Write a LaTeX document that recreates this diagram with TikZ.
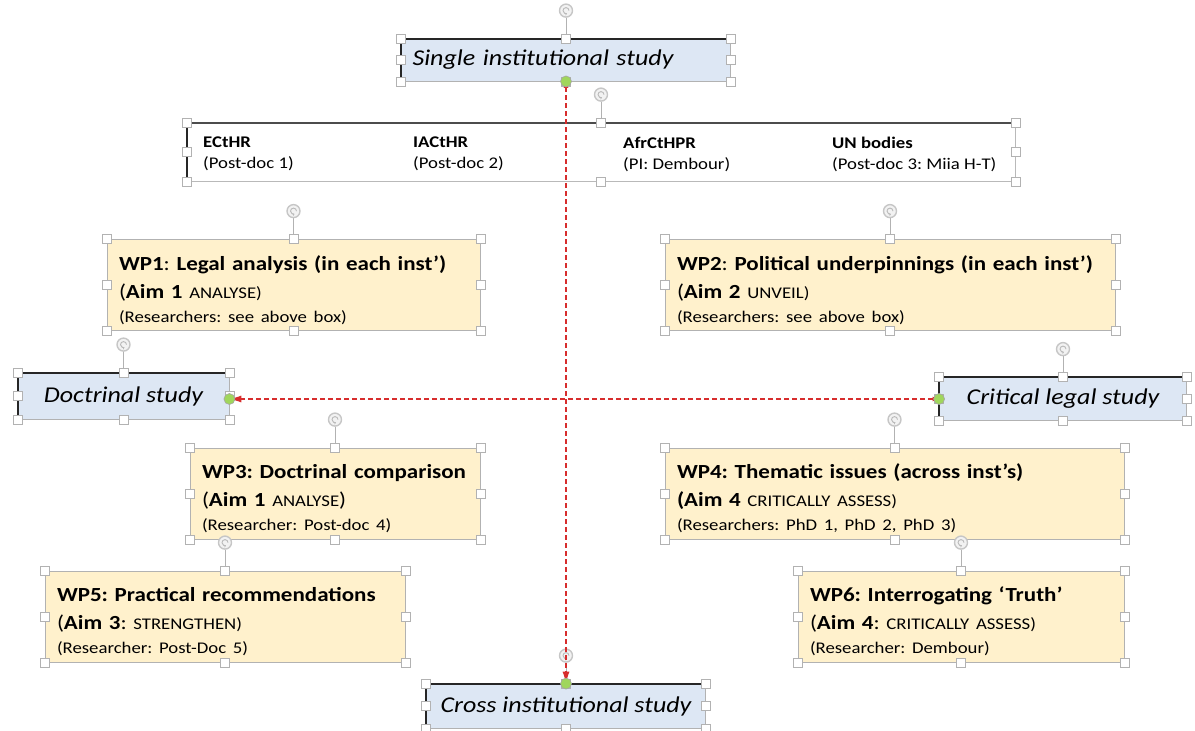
\documentclass[tikz,border=0pt]{standalone}
\usepackage{fontspec}
\setmainfont{Carlito}[FakeStretch=1.15]
\usetikzlibrary{arrows.meta,calc}
\frenchspacing

\definecolor{studyblue}{RGB}{221,231,244}
\definecolor{wpyellow}{RGB}{255,241,204}
\definecolor{linkred}{RGB}{215,45,45}
\definecolor{gripgreen}{RGB}{160,214,92}

\newcommand{\bigfont}{\fontsize{20}{28}\selectfont}
\newcommand{\smallfont}{\fontsize{16.3}{20}\selectfont}
\newcommand{\capsword}[1]{{\smallfont #1}}
\newcommand{\wptitle}[1]{\rule{0pt}{25pt}\mbox{#1}}

\tikzstyle{studybox}=[rectangle,fill=studyblue,draw=gray!60,line width=0.8pt,inner sep=0pt,font=\fontsize{22.6}{26}\selectfont\itshape]
\tikzstyle{instbox}=[rectangle,fill=white,draw=gray!55,line width=0.8pt,inner sep=0pt]
\tikzstyle{insttext}=[anchor=north west,align=left,inner sep=0pt,font=\fontsize{16.3}{21}\selectfont]
\tikzstyle{wpbox}=[rectangle,fill=wpyellow,draw=gray!60,line width=0.8pt,inner xsep=12pt,inner ysep=0pt,align=left,minimum height=91pt,font=\bigfont]
\tikzstyle{link}=[draw=linkred,line width=1.1pt,dash pattern=on 5pt off 3pt,{Latex[length=6.5pt,width=5pt]}-{Latex[length=12pt,width=7pt]}]
\tikzstyle{studyedge}=[black!85,line width=1.8pt]
\tikzstyle{handle}=[fill=white,draw=gray!60,line width=0.7pt]
\tikzstyle{knob}=[fill=gray!10,draw=gray!45,line width=1.4pt]
\tikzstyle{knobstem}=[gray!60,line width=0.8pt]
\tikzstyle{grip}=[circle,fill=gripgreen,draw=gray!70,line width=0.6pt,minimum size=11pt,inner sep=0pt]

\begin{document}
\begin{tikzpicture}[x=1pt,y=-1pt]
\useasboundingbox (0,0) rectangle (1195,731);

  % study types
  \node[studybox,minimum width=329pt,minimum height=42pt,text width=307pt,inner xsep=11pt,align=left] (single) at (566,60) {Single institutional study};
  \node[studybox,minimum width=211pt,minimum height=46pt] (doctrinal) at (123.5,396) {Doctrinal study};
  \node[studybox,minimum width=247pt,minimum height=43pt] (critical) at (1063,399) {Critical legal study};
  \node[studybox,minimum width=279pt,minimum height=44pt] (cross) at (566,706) {Cross institutional study};

  % institutions
  \node[instbox,minimum width=828pt,minimum height=58pt] (inst) at (601,152) {};
  \foreach \pos/\name/\court/\who in {203/ecthr/ECtHR/{(Post-doc 1)}, 413/iacthr/IACtHR/{(Post-doc 2)}, 623/afrcthpr/AfrCtHPR/{(PI: Dembour)}, 832/unbodies/UN bodies/{(Post-doc 3: Miia H-T)}}
    \node[insttext] (\name) at (\pos,137) {\textbf{\court}\\\who};

  % work packages
  \node[wpbox,text width=349pt] (wp1) at (293.5,285) {\wptitle{\textbf{WP1}: \textbf{Legal analysis (in each inst’)}}\\(\textbf{Aim 1} \capsword{ANALYSE)}\\[-4pt]\smallfont(Researchers: see above box)};
  \node[wpbox,text width=426pt] (wp2) at (890,285) {\wptitle{\textbf{WP2}: \textbf{Political underpinnings (in each inst’)}}\\(\textbf{Aim 2} \capsword{UNVEIL)}\\[-4pt]\smallfont(Researchers: see above box)};
  \node[wpbox,text width=266pt] (wp3) at (335,493.5) {\wptitle{\textbf{WP3: Doctrinal comparison}}\\(\textbf{Aim 1} \capsword{ANALYSE})\\[-4pt]\smallfont(Researcher: Post-doc 4)};
  \node[wpbox,text width=435pt] (wp4) at (894.5,493.5) {\wptitle{\textbf{WP4: Thematic issues (across inst’s)}}\\\textbf{(Aim 4} \capsword{CRITICALLY ASSESS)}\\[-4pt]\smallfont(Researchers: PhD 1, PhD 2, PhD 3)};
  \node[wpbox,text width=336pt] (wp5) at (225,616.5) {\wptitle{\textbf{WP5: Practical recommendations}}\\(\textbf{Aim 3}: \capsword{STRENGTHEN)}\\[-4pt]\smallfont(Researcher: Post-Doc 5)};
  \node[wpbox,text width=302pt] (wp6) at (961,616.5) {\wptitle{\textbf{WP6: Interrogating ‘Truth’}}\\(\textbf{Aim 4}: \capsword{CRITICALLY ASSESS)}\\[-4pt]\smallfont(Researcher: Dembour)};

  % dark frame edges of the selected boxes
  \foreach \n in {single,doctrinal,critical,cross}
    \draw[studyedge] (\n.south west) -- (\n.north west) -- (\n.north east);
  \draw[gray!60!black,line width=2.2pt] (inst.north west) -- (inst.north east);
  \draw[studyedge] (inst.south west) -- (inst.north west);

  % selection handles
  \foreach \n in {single,inst,wp1,wp2,doctrinal,critical,wp3,wp4,wp5,wp6,cross}{
    \draw[knobstem] (\n.north) -- ++(0,-21);
    \filldraw[knob] ($(\n.north)+(0,-28)$) circle (6.5pt);
    \draw[gray!55,line width=0.9pt,-{Stealth[length=2pt,width=3pt]}] ($(\n.north)+(3,-28)$) arc[start angle=0,end angle=290,radius=3pt];
    \foreach \a in {north west,north,north east,east,south east,south,south west,west}
      \filldraw[handle] ($(\n.\a)+(-4.5,-4.5)$) rectangle ++(9,9);
  }

  % connectors
  \draw[link] (single.south) -- (cross.north);
  \draw[link] (critical.west) -- (critical.west -| doctrinal.east);

  \node[grip] (gripa) at (single.south) {};
  \node[grip] (gripb) at (cross.north) {};
  \node[grip] (gripc) at (critical.west) {};
  \node[grip] (gripd) at (critical.west -| doctrinal.east) {};
\end{tikzpicture}
\end{document}
